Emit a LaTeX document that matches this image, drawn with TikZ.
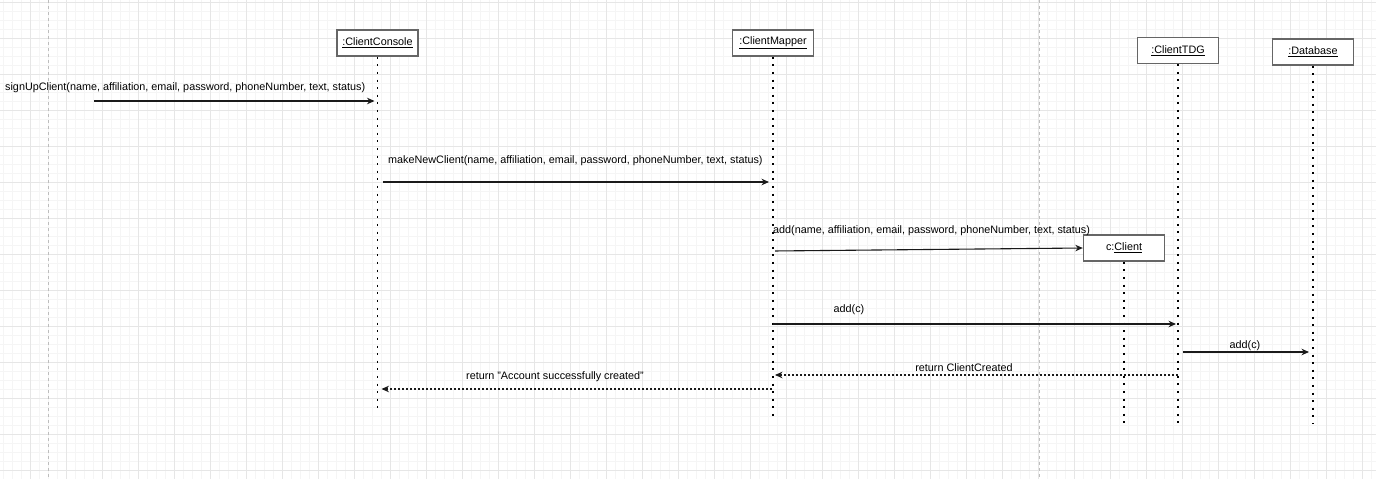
\documentclass[tikz,border=0pt]{standalone}
\usepackage{fontspec}
\setmainfont{Liberation Sans}
\usetikzlibrary{arrows.meta}
\definecolor{boxline}{HTML}{666666}
\definecolor{gridmajor}{HTML}{E6E6E6}
\definecolor{gridminor}{HTML}{F5F5F5}
\definecolor{breakgray}{HTML}{BDBDBD}
\definecolor{msgline}{HTML}{1A1A1A}
\begin{document}
\begin{tikzpicture}[x=1pt, y=-1pt,
  font=\fontsize{10.8}{13}\selectfont,
  minorline/.style={gridminor, line width=0.6pt},
  majorline/.style={gridmajor, line width=0.8pt},
  pagebreak/.style={breakgray, line width=0.8pt, dash pattern=on 3pt off 3pt},
  object/.style={draw=boxline, line width=1.4pt, fill=white,
    minimum width=81pt, minimum height=26pt, inner sep=0pt},
  lifeline/.style={line width=1.9pt, dash pattern=on 2pt off 5.6pt},
  msg/.style={msgline, line width=1.1pt, -{Stealth[length=7.5pt,width=6.5pt]}},
  reply/.style={msg, dash pattern=on 2pt off 2pt},
  msgtext/.style={inner sep=0pt, yshift=-1.5pt}]
  \useasboundingbox (0,0) rectangle (1376,479);
  \fill[white] (0,0) rectangle (1376,479);
  % grid
  \foreach \i in {0,...,152} \draw[minorline] (3.3+9*\i,0) -- ++(0,479);
  \foreach \i in {0,...,52} \draw[minorline] (0,2.3+9*\i) -- ++(1376,0);
  \foreach \i in {0,...,37} \draw[majorline] (30.3+36*\i,0) -- ++(0,479);
  \foreach \i in {0,...,13} \draw[majorline] (0,2.3+36*\i) -- ++(1376,0);
  \draw[pagebreak] (48.5,0) -- (48.5,479);
  \draw[pagebreak] (1039.5,0) -- (1039.5,479);
  % objects
  \node[object] (console) at (377.5,43) {\underline{:ClientConsole}};
  \node[object] (mapper) at (773,43) {\underline{:ClientMapper}};
  \node[object] (tdg) at (1178,50.5) {\underline{:ClientTDG}};
  \node[object] (db) at (1313,52) {\underline{:Database}};
  \node[object] (client) at (1124,248) {c:\underline{Client}};
  % lifelines
  \draw[lifeline] (console.south) -- ++(0,351);
  \draw[lifeline] (mapper.south) -- ++(0,359);
  \draw[lifeline] (tdg.south) -- ++(0,359);
  \draw[lifeline] (db.south) -- ++(0,358);
  \draw[lifeline] (client.south) -- ++(0,163);
  % messages
  \coordinate (gate) at (94,101);
  \draw[msg, shorten >=3pt] (gate) -- (gate -| console);
  \node[msgtext, anchor=west] (signup) at (5,86)
    {signUpClient(name, affiliation, email, password, phoneNumber, text, status)};
  \draw[msg, shorten <=5pt, shorten >=4pt] (console |- 0,182) -- (mapper |- 0,182);
  \node[msgtext, anchor=west] (make) at (388,159)
    {makeNewClient(name, affiliation, email, password, phoneNumber, text, status)};
  \draw[msg, shorten <=2pt] (mapper |- 0,251) -- (client.west);
  \node[msgtext, anchor=west] (create) at (773,229)
    {add(name, affiliation, email, password, phoneNumber, text, status)};
  \draw[msg, shorten >=2pt] (mapper |- 0,324) -- (tdg |- 0,324);
  \node[msgtext] (addtdg) at (849,308) {add(c)};
  \draw[msg, shorten <=5pt, shorten >=4pt] (tdg |- 0,352) -- (db |- 0,352);
  \node[msgtext] (adddb) at (1245,344) {add(c)};
  \draw[reply, shorten >=2pt] (tdg |- 0,375) -- (mapper |- 0,375);
  \node[msgtext] (created) at (964,366) {return ClientCreated};
  \draw[reply, shorten <=1pt, shorten >=4pt] (mapper |- 0,389) -- (console |- 0,389);
  \node[msgtext] (done) at (555,375) {return "Account successfully created"};
\end{tikzpicture}
\end{document}
